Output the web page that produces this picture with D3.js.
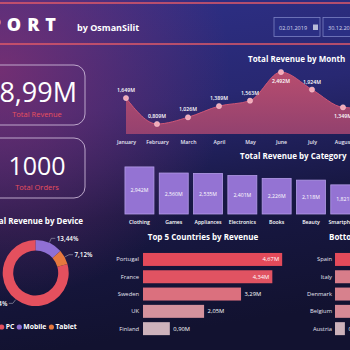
<!DOCTYPE html>
<html>
<head>
<meta charset="utf-8">
<script src="https://cdn.jsdelivr.net/npm/d3@7"></script>
<style>
html, body { margin: 0; padding: 0; background: #16163a; overflow: hidden; }
svg { display: block; font-family: "Open Sans", sans-serif; }
</style>
</head>
<body>
<div id="chart"></div>
<script>
// Data
const months = ["January", "February", "March", "April", "May", "June", "July", "August", "September"];
const monthRevenue = [1.649, 0.809, 1.026, 1.389, 1.563, 2.492, 1.924, 1.349, 1.30];

const categories = ["Clothing", "Games", "Appliances", "Electronics", "Books", "Beauty", "Smartphones"];
const categoryRevenue = [2.942, 2.560, 2.535, 2.401, 2.226, 2.118, 1.821];

const devices = ["PC", "Mobile", "Tablet"];
const deviceShare = [79.44, 13.44, 7.12];

const topCountries = ["Portugal", "France", "Sweden", "UK", "Finland"];
const topRevenue = [4.67, 4.34, 3.29, 2.05, 0.90];

const bottomCountries = ["Spain", "Italy", "Denmark", "Belgium", "Austria"];
const bottomRevenue = [0.72, 0.46, 0.44, 0.40, 0.19];

const totalRevenue = "18,99M";
const totalOrders = "1000";
const dateFrom = "02.01.2019", dateTo = "30.12.2019";

const W = 350, H = 350;
const fmtM = d => d3.format(".3f")(d).replace(".", ",") + "M";
const fmt2 = d => d3.format(".2f")(d).replace(".", ",") + "M";

const svg = d3.select("#chart").append("svg")
    .attr("width", W).attr("height", H);

// Background gradients
const defs = svg.append("defs");
const bg = defs.append("linearGradient").attr("id", "bg")
    .attr("x1", 0).attr("y1", 0).attr("x2", 0.15).attr("y2", 1);
[["0", "#2e3088"], ["0.35", "#282872"], ["0.65", "#181844"], ["1", "#121230"]]
    .forEach(s => bg.append("stop").attr("offset", s[0]).attr("stop-color", s[1]));
const glow = defs.append("radialGradient").attr("id", "glow")
    .attr("gradientUnits", "userSpaceOnUse")
    .attr("cx", 0).attr("cy", 70).attr("r", 230);
glow.append("stop").attr("offset", 0).attr("stop-color", "#8a3070").attr("stop-opacity", 0.75);
glow.append("stop").attr("offset", 1).attr("stop-color", "#8a3070").attr("stop-opacity", 0);
const areaGrad = defs.append("linearGradient").attr("id", "areaGrad")
    .attr("x1", 0).attr("y1", 0).attr("x2", 0).attr("y2", 1);
areaGrad.append("stop").attr("offset", 0).attr("stop-color", "#c4506e");
areaGrad.append("stop").attr("offset", 1).attr("stop-color", "#9c4470");

svg.append("rect").attr("width", W).attr("height", H).attr("fill", "url(#bg)");
svg.append("rect").attr("width", W).attr("height", H).attr("fill", "url(#glow)");

// Header
svg.selectAll("line.hdr").data([3, 44]).join("line").classed("hdr", true)
    .attr("x1", 0).attr("x2", W).attr("y1", d => d).attr("y2", d => d)
    .attr("stroke", "#e05a68").attr("stroke-width", 1.5);
svg.append("text").attr("x", 62).attr("y", 31).attr("text-anchor", "end")
    .attr("fill", "#fff").attr("font-size", 18).attr("font-weight", 800)
    .attr("letter-spacing", 6).text("SALES REPORT");
svg.append("text").attr("x", 77).attr("y", 30.5)
    .attr("fill", "#fff").attr("font-size", 9).attr("font-weight", 700).text("by OsmanSilit");

const dates = svg.append("g");
[[274, 46, dateFrom], [323, 46, dateTo]].forEach(([x, w, t]) => {
    dates.append("rect").attr("x", x).attr("y", 17.5).attr("width", w).attr("height", 19)
        .attr("fill", "#2b2f84").attr("stroke", "#7c82c4").attr("stroke-width", 0.8);
    dates.append("text").attr("x", x + 5).attr("y", 29.5).attr("fill", "#dcdcf0")
        .attr("font-size", 5.5).text(t);
    dates.append("rect").attr("x", x + 39).attr("y", 24.5).attr("width", 5).attr("height", 5.5)
        .attr("fill", "#b8bcd8");
});

// KPI cards
const kpis = [[65, totalRevenue, "Total Revenue", 77, "end", 27], [138, totalOrders, "Total Orders", 37, "middle", 25]];
kpis.forEach(([y, v, label, tx, anchor, fs]) => {
    svg.append("rect").attr("x", -15).attr("y", y).attr("width", 100).attr("height", 60)
        .attr("rx", 11).attr("fill", "none").attr("stroke", "#c9b6d6").attr("stroke-width", 0.9);
    svg.append("text").attr("x", tx).attr("y", y + 37).attr("text-anchor", anchor)
        .attr("fill", "#fff").attr("font-size", fs).text(v);
    svg.append("text").attr("x", 37).attr("y", y + 52).attr("text-anchor", "middle")
        .attr("fill", "#e8505e").attr("font-size", 7.5).text(label);
});

// Titles
const title = (x, y, anchor, t) => svg.append("text").attr("x", x).attr("y", y)
    .attr("text-anchor", anchor).attr("fill", "#fff").attr("font-size", 8)
    .attr("font-weight", 700).text(t);
title(248, 62, "start", "Total Revenue by Month");
title(240, 159, "start", "Total Revenue by Category");
title(83, 224, "end", "Total Revenue by Device");
title(203, 240, "middle", "Top 5 Countries by Revenue");
title(329, 240, "start", "Bottom 5 Countries by Revenue");

// Revenue by month (area)
const xM = d3.scalePoint().domain(months).range([126, 126 + 31 * (months.length - 1)]);
const yM = d3.scaleLinear().domain([0.485, 2.72]).range([134, 65]);
const monthData = months.map((m, i) => ({ m, v: monthRevenue[i] }));
const area = d3.area().x(d => xM(d.m)).y0(134).y1(d => yM(d.v)).curve(d3.curveMonotoneX);
const line = d3.line().x(d => xM(d.m)).y(d => yM(d.v)).curve(d3.curveMonotoneX);
const gM = svg.append("g");
gM.append("path").datum(monthData).attr("d", area).attr("fill", "url(#areaGrad)").attr("opacity", 0.92);
gM.append("path").datum(monthData).attr("d", line).attr("fill", "none")
    .attr("stroke", "#cf5676").attr("stroke-width", 1);
gM.selectAll("circle").data(monthData).join("circle")
    .attr("cx", d => xM(d.m)).attr("cy", d => yM(d.v)).attr("r", 2.6)
    .attr("fill", "#f3a9b8").attr("stroke", "#f8d0d8").attr("stroke-width", 0.5);
const below = new Set(["June", "August"]);
gM.selectAll("text.lbl").data(monthData).join("text").classed("lbl", true)
    .attr("x", d => xM(d.m)).attr("y", d => yM(d.v) + (below.has(d.m) ? 11 : -6))
    .attr("text-anchor", "middle").attr("fill", "#fff").attr("font-size", 5.2)
    .attr("font-weight", 600).text(d => fmtM(d.v));
const axM = svg.append("g").attr("transform", "translate(0,134)")
    .call(d3.axisBottom(xM).tickSize(0).tickPadding(6));
axM.select(".domain").remove();
axM.selectAll("text").attr("fill", "#e6e6f4").attr("font-size", 5.2).attr("font-weight", 600)
    .attr("font-family", "Open Sans, sans-serif");

// Revenue by category (columns)
const xC = d3.scaleBand().domain(categories).range([122.3, 122.3 + 34.3 * categories.length])
    .paddingInner(0.155).paddingOuter(0.0775);
const yC = d3.scaleLinear().domain([0, 3]).range([214, 166]);
const catData = categories.map((c, i) => ({ c, v: categoryRevenue[i] }));
const gC = svg.append("g");
gC.selectAll("rect").data(catData).join("rect")
    .attr("x", d => xC(d.c)).attr("y", d => yC(d.v))
    .attr("width", xC.bandwidth()).attr("height", d => yC(0) - yC(d.v))
    .attr("fill", "#9473d3").attr("stroke", "#b49ce8").attr("stroke-width", 0.8);
gC.selectAll("text").data(catData).join("text")
    .attr("x", d => xC(d.c) + xC.bandwidth() / 2).attr("y", d => (yC(d.v) + yC(0)) / 2 + 2)
    .attr("text-anchor", "middle").attr("fill", "#fff").attr("font-size", 5.2).text(d => fmtM(d.v));
const axC = svg.append("g").attr("transform", "translate(0,214)")
    .call(d3.axisBottom(xC).tickSize(0).tickPadding(6));
axC.select(".domain").remove();
axC.selectAll("text").attr("fill", "#fff").attr("font-size", 5.2).attr("font-weight", 600)
    .attr("font-family", "Open Sans, sans-serif");

// Revenue by device (donut)
const devColor = d3.scaleOrdinal().domain(devices).range(["#e4505e", "#9070d4", "#e6783e"]);
const start = -deviceShare[0] / 100 * 2 * Math.PI;
const pie = d3.pie().sort(null).value(d => d.v).startAngle(start).endAngle(start + 2 * Math.PI);
const arcs = pie(devices.map((d, i) => ({ d, v: deviceShare[i] })));
const cx = 35.7, cy = 273, R = 33, r = 22.5;
const gD = svg.append("g").attr("transform", `translate(${cx},${cy})`);
gD.selectAll("path").data(arcs).join("path")
    .attr("d", d3.arc().innerRadius(r).outerRadius(R))
    .attr("fill", d => devColor(d.data.d));
arcs.forEach(a => {
    const m = (a.startAngle + a.endAngle) / 2;
    const p1 = [Math.sin(m) * (R + 0.5), -Math.cos(m) * (R + 0.5)];
    const p2 = [Math.sin(m) * (R + 5), -Math.cos(m) * (R + 5)];
    const dir = Math.sin(m) >= 0 ? 1 : -1;
    const p3 = [p2[0] + dir * 4, p2[1]];
    gD.append("polyline").attr("points", [p1, p2, p3].map(p => p.join(",")).join(" "))
        .attr("fill", "none").attr("stroke", "#a8a8b8").attr("stroke-width", 0.6);
    gD.append("text").attr("x", p3[0] + dir * 1.5).attr("y", p3[1] + 2.3)
        .attr("text-anchor", dir > 0 ? "start" : "end")
        .attr("fill", "#fff").attr("font-size", 6.3).attr("font-weight", 600)
        .text(d3.format(".2f")(a.data.v).replace(".", ",") + "%");
});
const leg = svg.append("g").attr("transform", "translate(0,327)");
let lx = 1.7;
devices.forEach(d => {
    leg.append("circle").attr("cx", lx).attr("cy", 0).attr("r", 2.6).attr("fill", devColor(d));
    const t = leg.append("text").attr("x", lx + 4).attr("y", 2.4).attr("fill", "#fff")
        .attr("font-size", 6.8).attr("font-weight", 700).text(d);
    lx += 4 + t.node().getComputedTextLength() + 5;
});

// Country bars
function countryBars(names, vals, x0, pxPerM, labelX) {
    const y = d3.scaleBand().domain(names).range([250.8, 250.8 + 17.3 * names.length])
        .paddingInner(0.25).paddingOuter(0.125);
    const x = d3.scaleLinear().domain([0, 1]).range([x0, x0 + pxPerM]);
    const col = d3.scaleLinear().domain(d3.extent(vals)).range(["#cdb2bb", "#e34a5a"]);
    const data = names.map((n, i) => ({ n, v: vals[i] }));
    const g = svg.append("g");
    g.selectAll("rect").data(data).join("rect")
        .attr("x", x(0)).attr("y", d => y(d.n))
        .attr("width", d => x(d.v) - x(0)).attr("height", y.bandwidth())
        .attr("fill", d => col(d.v));
    g.selectAll("text.val").data(data).join("text").classed("val", true)
        .attr("x", d => x(d.v) - x(0) > 110 ? x(d.v) - 3 : x(d.v) + 3.5)
        .attr("y", d => y(d.n) + y.bandwidth() / 2 + 2)
        .attr("text-anchor", d => x(d.v) - x(0) > 110 ? "end" : "start")
        .attr("fill", "#fff").attr("font-size", 5.8).text(d => fmt2(d.v));
    const ax = svg.append("g").attr("transform", `translate(${labelX},0)`)
        .call(d3.axisLeft(y).tickSize(0).tickPadding(0));
    ax.select(".domain").remove();
    ax.selectAll("text").attr("fill", "#e4e4f0").attr("font-size", 5.8)
        .attr("font-family", "Open Sans, sans-serif");
}
countryBars(topCountries, topRevenue, 143, 29.8, 139);
countryBars(bottomCountries, bottomRevenue, 335, 52, 332);
</script>
</body>
</html>
